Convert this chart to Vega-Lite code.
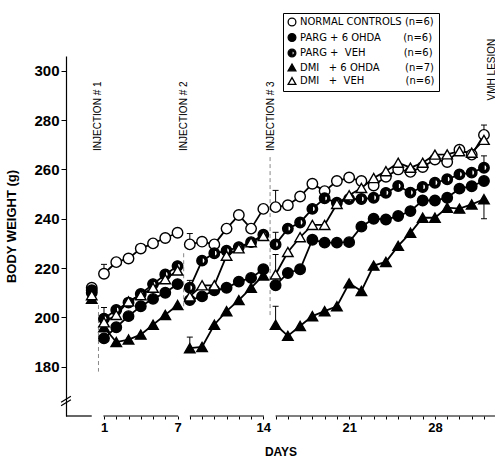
{
  "$schema": "https://vega.github.io/schema/vega-lite/v6.json",
  "width": 429,
  "height": 360,
  "autosize": {"type": "none"},
  "padding": {"left": 66, "top": 56, "right": 0, "bottom": 47},
  "background": "white",
  "config": {"view": {"stroke": null}, "font": "Liberation Sans",
    "legend": {"title":null,"orient":"none","legendX":217,"legendY":-43,"padding":4,"strokeColor":"black","fillColor":"white","labelFont":"DejaVu Sans","labelFontSize":10,"labelColor":"black","labelLimit":400,"labelOffset":3,"rowPadding":1.5,"symbolSize":60,"symbolStrokeWidth":1.3}},
  "datasets": {
    "pts": [
      {"g":"NC","s":0,"d":0,"v":212},
      {"g":"NC","s":1,"d":1,"v":217.7},{"g":"NC","s":1,"d":2,"v":222.4},{"g":"NC","s":1,"d":3,"v":223.9},{"g":"NC","s":1,"d":4,"v":227.9},{"g":"NC","s":1,"d":5,"v":230},{"g":"NC","s":1,"d":6,"v":232.2},{"g":"NC","s":1,"d":7,"v":234.3},
      {"g":"NC","s":2,"d":8,"v":229.6},{"g":"NC","s":2,"d":9,"v":230.7},{"g":"NC","s":2,"d":10,"v":229.6},{"g":"NC","s":2,"d":11,"v":236},{"g":"NC","s":2,"d":12,"v":241.5},{"g":"NC","s":2,"d":13,"v":236},{"g":"NC","s":2,"d":14,"v":244},
      {"g":"NC","s":3,"d":15,"v":244.7},{"g":"NC","s":3,"d":16,"v":245.5},{"g":"NC","s":3,"d":17,"v":249},{"g":"NC","s":3,"d":18,"v":254.2},{"g":"NC","s":3,"d":19,"v":251.2},{"g":"NC","s":3,"d":20,"v":255.3},{"g":"NC","s":3,"d":21,"v":256.7},{"g":"NC","s":3,"d":22,"v":255.3},{"g":"NC","s":3,"d":23,"v":253.5},{"g":"NC","s":3,"d":24,"v":257},{"g":"NC","s":3,"d":25,"v":260},{"g":"NC","s":3,"d":26,"v":259},{"g":"NC","s":3,"d":27,"v":261},{"g":"NC","s":3,"d":28,"v":264},{"g":"NC","s":3,"d":29,"v":263},{"g":"NC","s":3,"d":30,"v":268},{"g":"NC","s":3,"d":31,"v":266},{"g":"NC","s":3,"d":32,"v":274},
      {"g":"P6","s":0,"d":0,"v":211},
      {"g":"P6","s":1,"d":1,"v":191.5},{"g":"P6","s":1,"d":2,"v":196},{"g":"P6","s":1,"d":3,"v":200.5},{"g":"P6","s":1,"d":4,"v":204.5},{"g":"P6","s":1,"d":5,"v":207.5},{"g":"P6","s":1,"d":6,"v":210},{"g":"P6","s":1,"d":7,"v":213.5},
      {"g":"P6","s":2,"d":8,"v":207},{"g":"P6","s":2,"d":9,"v":208.5},{"g":"P6","s":2,"d":10,"v":211},{"g":"P6","s":2,"d":11,"v":212},{"g":"P6","s":2,"d":12,"v":214.5},{"g":"P6","s":2,"d":13,"v":216},{"g":"P6","s":2,"d":14,"v":219.5},
      {"g":"P6","s":3,"d":15,"v":213},{"g":"P6","s":3,"d":16,"v":218},{"g":"P6","s":3,"d":17,"v":219.5},{"g":"P6","s":3,"d":18,"v":231.5},{"g":"P6","s":3,"d":19,"v":230.3},{"g":"P6","s":3,"d":20,"v":230.3},{"g":"P6","s":3,"d":21,"v":230.5},{"g":"P6","s":3,"d":22,"v":236.8},{"g":"P6","s":3,"d":23,"v":240},{"g":"P6","s":3,"d":24,"v":239.7},{"g":"P6","s":3,"d":25,"v":241.1},{"g":"P6","s":3,"d":26,"v":243.1},{"g":"P6","s":3,"d":27,"v":247.4},{"g":"P6","s":3,"d":28,"v":247.4},{"g":"P6","s":3,"d":29,"v":248.5},{"g":"P6","s":3,"d":30,"v":252.2},{"g":"P6","s":3,"d":31,"v":253.2},{"g":"P6","s":3,"d":32,"v":255.3},
      {"g":"PV","s":0,"d":0,"v":210},
      {"g":"PV","s":1,"d":1,"v":199.5},{"g":"PV","s":1,"d":2,"v":203},{"g":"PV","s":1,"d":3,"v":206},{"g":"PV","s":1,"d":4,"v":209.5},{"g":"PV","s":1,"d":5,"v":213.5},{"g":"PV","s":1,"d":6,"v":217.4},{"g":"PV","s":1,"d":7,"v":220.8},
      {"g":"PV","s":2,"d":8,"v":212},{"g":"PV","s":2,"d":9,"v":223},{"g":"PV","s":2,"d":10,"v":226},{"g":"PV","s":2,"d":11,"v":227},{"g":"PV","s":2,"d":12,"v":228.5},{"g":"PV","s":2,"d":13,"v":230.5},{"g":"PV","s":2,"d":14,"v":233.5},
      {"g":"PV","s":3,"d":15,"v":229.6},{"g":"PV","s":3,"d":16,"v":236},{"g":"PV","s":3,"d":17,"v":238.5},{"g":"PV","s":3,"d":18,"v":244},{"g":"PV","s":3,"d":19,"v":248.3},{"g":"PV","s":3,"d":20,"v":246.5},{"g":"PV","s":3,"d":21,"v":248},{"g":"PV","s":3,"d":22,"v":248},{"g":"PV","s":3,"d":23,"v":248.5},{"g":"PV","s":3,"d":24,"v":250.5},{"g":"PV","s":3,"d":25,"v":253.3},{"g":"PV","s":3,"d":26,"v":250.6},{"g":"PV","s":3,"d":27,"v":252.9},{"g":"PV","s":3,"d":28,"v":254.6},{"g":"PV","s":3,"d":29,"v":256},{"g":"PV","s":3,"d":30,"v":258},{"g":"PV","s":3,"d":31,"v":258.7},{"g":"PV","s":3,"d":32,"v":260.7},
      {"g":"D6","s":0,"d":0,"v":207.5},
      {"g":"D6","s":1,"d":1,"v":196},{"g":"D6","s":1,"d":2,"v":190},{"g":"D6","s":1,"d":3,"v":191},{"g":"D6","s":1,"d":4,"v":193},{"g":"D6","s":1,"d":5,"v":197},{"g":"D6","s":1,"d":6,"v":201},{"g":"D6","s":1,"d":7,"v":205},
      {"g":"D6","s":2,"d":8,"v":187.5},{"g":"D6","s":2,"d":9,"v":188},{"g":"D6","s":2,"d":10,"v":197},{"g":"D6","s":2,"d":11,"v":202.5},{"g":"D6","s":2,"d":12,"v":207},{"g":"D6","s":2,"d":13,"v":212},{"g":"D6","s":2,"d":14,"v":217},
      {"g":"D6","s":3,"d":15,"v":197},{"g":"D6","s":3,"d":16,"v":192.5},{"g":"D6","s":3,"d":17,"v":196.5},{"g":"D6","s":3,"d":18,"v":200.5},{"g":"D6","s":3,"d":19,"v":202.5},{"g":"D6","s":3,"d":20,"v":204.5},{"g":"D6","s":3,"d":21,"v":213.8},{"g":"D6","s":3,"d":22,"v":210.7},{"g":"D6","s":3,"d":23,"v":221},{"g":"D6","s":3,"d":24,"v":222.5},{"g":"D6","s":3,"d":25,"v":229},{"g":"D6","s":3,"d":26,"v":234.3},{"g":"D6","s":3,"d":27,"v":240.4},{"g":"D6","s":3,"d":28,"v":240.4},{"g":"D6","s":3,"d":29,"v":244.5},{"g":"D6","s":3,"d":30,"v":244.1},{"g":"D6","s":3,"d":31,"v":245.8},{"g":"D6","s":3,"d":32,"v":247.9},
      {"g":"DV","s":0,"d":0,"v":209},
      {"g":"DV","s":1,"d":1,"v":198},{"g":"DV","s":1,"d":2,"v":201},{"g":"DV","s":1,"d":3,"v":206.5},{"g":"DV","s":1,"d":4,"v":209},{"g":"DV","s":1,"d":5,"v":212},{"g":"DV","s":1,"d":6,"v":215.5},{"g":"DV","s":1,"d":7,"v":219},
      {"g":"DV","s":2,"d":8,"v":208.5},{"g":"DV","s":2,"d":9,"v":213},{"g":"DV","s":2,"d":10,"v":213},{"g":"DV","s":2,"d":11,"v":225},{"g":"DV","s":2,"d":12,"v":228},{"g":"DV","s":2,"d":13,"v":230.5},{"g":"DV","s":2,"d":14,"v":233},
      {"g":"DV","s":3,"d":15,"v":217.4},{"g":"DV","s":3,"d":16,"v":226.5},{"g":"DV","s":3,"d":17,"v":232.5},{"g":"DV","s":3,"d":18,"v":237.5},{"g":"DV","s":3,"d":19,"v":237.5},{"g":"DV","s":3,"d":20,"v":246},{"g":"DV","s":3,"d":21,"v":249.5},{"g":"DV","s":3,"d":22,"v":252.5},{"g":"DV","s":3,"d":23,"v":256.5},{"g":"DV","s":3,"d":24,"v":259.3},{"g":"DV","s":3,"d":25,"v":262.7},{"g":"DV","s":3,"d":26,"v":260.7},{"g":"DV","s":3,"d":27,"v":262.7},{"g":"DV","s":3,"d":28,"v":266},{"g":"DV","s":3,"d":29,"v":266.1},{"g":"DV","s":3,"d":30,"v":267.4},{"g":"DV","s":3,"d":31,"v":266.8},{"g":"DV","s":3,"d":32,"v":272}
    ],
    "err": [
      {"d":1,"v":217.7,"v2":221.5},{"d":1,"v":199.5,"v2":204},
      {"d":8,"v":229.6,"v2":234},{"d":8,"v":208.5,"v2":215},{"d":8,"v":187.5,"v2":192},
      {"d":15,"v":244.7,"v2":251.5},{"d":15,"v":229.6,"v2":234.5},{"d":15,"v":217.4,"v2":225.5},{"d":15,"v":197,"v2":204.5},
      {"d":32,"v":260.7,"v2":265.5},{"d":32,"v":247.9,"v2":240},{"d":32,"v":274,"v2":278}
    ],
    "axseg": [
      {"d":-2.1,"d2":0,"v":160},{"d":0.95,"d2":7.05,"v":160},{"d":8,"d2":14.05,"v":160},{"d":15,"d2":32.9,"v":160}
    ],
    "brk": [
      {"d":-2.5,"d2":-1.7,"v":164.2,"v2":166.6},{"d":-2.5,"d2":-1.7,"v":165.6,"v2":168}
    ],
    "inj": [
      {"d":0.55,"v":205,"v2":178},{"d":7.5,"v":226,"v2":203},{"d":14.55,"v":265,"v2":200}
    ],
    "lab": [
      {"d":0.5,"v":267.5,"t":"INJECTION # 1"},
      {"d":7.55,"v":267.5,"t":"INJECTION # 2"},
      {"d":14.6,"v":267.5,"t":"INJECTION # 3"},
      {"d":32.65,"v":288,"t":"VMH LESION"}
    ]
  },
  "encoding": {
    "x": {"field":"d","type":"quantitative","scale":{"domain":[-2.1,32.9],"nice":false,"zero":false},
      "axis":{"title":"DAYS","values":[1,2,3,4,5,6,7,8,9,10,11,12,13,14,15,16,17,18,19,20,21,22,23,24,25,26,27,28,29,30,31,32],
        "labelExpr":"indexof([1,7,14,21,28], datum.value) >= 0 ? datum.label : ''",
        "domain":false,"grid":false,"tickSize":3,"tickColor":"black","labelPadding":2,"labelFont":"Liberation Sans","labelFontWeight":"bold","labelFontSize":13,"labelColor":"black",
        "titleFont":"Liberation Sans","titleFontWeight":"bold","titleFontSize":12,"titleColor":"black","titlePadding":12}},
    "y": {"field":"v","type":"quantitative","scale":{"domain":[160,306],"nice":false,"zero":false},
      "axis":{"title":"BODY WEIGHT (g)","values":[180,200,220,240,260,280,300],"grid":false,"tickSize":5,"tickColor":"black","domainColor":"black","domainWidth":1.2,
        "labelPadding":2,"labelFont":"Liberation Sans","labelFontWeight":"bold","labelFontSize":15,"labelColor":"black",
        "titleFont":"Liberation Sans","titleFontWeight":"bold","titleFontSize":13,"titleColor":"black","titleX":-55,"titleY":170,"titleAngle":270,"titleAlign":"center","titleBaseline":"middle"}}
  },
  "layer": [
    {"data":{"name":"axseg"},"mark":{"type":"rule","color":"black","strokeWidth":1.2},"encoding":{"x2":{"field":"d2"}}},
    {"data":{"name":"brk"},"mark":{"type":"rule","color":"black","strokeWidth":1.2},"encoding":{"x2":{"field":"d2"},"y2":{"field":"v2"}}},
    {"data":{"name":"inj"},"mark":{"type":"rule","color":"#888888","strokeWidth":1,"strokeDash":[4,3]},"encoding":{"y2":{"field":"v2"}}},
    {"data":{"name":"err"},"mark":{"type":"rule","color":"black","strokeWidth":1},"encoding":{"y2":{"field":"v2"}}},
    {"data":{"name":"err"},"mark":{"type":"tick","orient":"horizontal","size":6,"thickness":1,"color":"black","opacity":1},"encoding":{"y":{"field":"v2","type":"quantitative"}}},
    {"data":{"name":"pts"},"mark":{"type":"line","color":"black","strokeWidth":1.8},"encoding":{"detail":[{"field":"g"},{"field":"s"}]}},
    {"data":{"name":"pts"},"transform":[{"filter":"datum.g == 'PV'"}],"mark":{"type":"point","shape":"circle","filled":true,"color":"white","size":100,"opacity":1}},
    {"data":{"name":"pts"},"mark":{"type":"point","filled":true,"strokeWidth":1.4,"size":110,"opacity":1},
      "encoding":{
        "fill":{"field":"g","type":"nominal","scale":{"domain":["NC","P6","PV","D6","DV"],"range":["white","black","black","black","white"]},
          "legend":{"labelExpr":"datum.value=='NC'?'NORMAL CONTROLS (n=6)':datum.value=='P6'?'PARG + 6 OHDA\u00a0\u00a0\u00a0\u00a0\u00a0\u00a0\u00a0(n=6)':datum.value=='PV'?'PARG +\u00a0\u00a0VEH\u00a0\u00a0\u00a0\u00a0\u00a0\u00a0\u00a0\u00a0\u00a0\u00a0\u00a0\u00a0(n=6)':datum.value=='D6'?'DMI\u00a0\u00a0\u00a0+ 6 OHDA\u00a0\u00a0\u00a0\u00a0\u00a0\u00a0\u00a0\u00a0(n=7)':'DMI\u00a0\u00a0\u00a0+\u00a0\u00a0VEH\u00a0\u00a0\u00a0\u00a0\u00a0\u00a0\u00a0\u00a0\u00a0\u00a0\u00a0\u00a0\u00a0(n=6)'"}},
        "stroke":{"field":"g","type":"nominal","scale":{"domain":["NC","P6","PV","D6","DV"],"range":["black","black","black","black","black"]},
          "legend":{"labelExpr":"datum.value=='NC'?'NORMAL CONTROLS (n=6)':datum.value=='P6'?'PARG + 6 OHDA\u00a0\u00a0\u00a0\u00a0\u00a0\u00a0\u00a0(n=6)':datum.value=='PV'?'PARG +\u00a0\u00a0VEH\u00a0\u00a0\u00a0\u00a0\u00a0\u00a0\u00a0\u00a0\u00a0\u00a0\u00a0\u00a0(n=6)':datum.value=='D6'?'DMI\u00a0\u00a0\u00a0+ 6 OHDA\u00a0\u00a0\u00a0\u00a0\u00a0\u00a0\u00a0\u00a0(n=7)':'DMI\u00a0\u00a0\u00a0+\u00a0\u00a0VEH\u00a0\u00a0\u00a0\u00a0\u00a0\u00a0\u00a0\u00a0\u00a0\u00a0\u00a0\u00a0\u00a0(n=6)'"}},
        "shape":{"field":"g","type":"nominal","scale":{"domain":["NC","P6","PV","D6","DV"],"range":["circle","circle","M0,-1A1,1 0 1,1 0,1A1,1 0 1,1 0,-1ZM0,0.6A0.6,0.6 0 0,0 0,-0.6Z","triangle-up","triangle-up"]},
          "legend":{"labelExpr":"datum.value=='NC'?'NORMAL CONTROLS (n=6)':datum.value=='P6'?'PARG + 6 OHDA\u00a0\u00a0\u00a0\u00a0\u00a0\u00a0\u00a0(n=6)':datum.value=='PV'?'PARG +\u00a0\u00a0VEH\u00a0\u00a0\u00a0\u00a0\u00a0\u00a0\u00a0\u00a0\u00a0\u00a0\u00a0\u00a0(n=6)':datum.value=='D6'?'DMI\u00a0\u00a0\u00a0+ 6 OHDA\u00a0\u00a0\u00a0\u00a0\u00a0\u00a0\u00a0\u00a0(n=7)':'DMI\u00a0\u00a0\u00a0+\u00a0\u00a0VEH\u00a0\u00a0\u00a0\u00a0\u00a0\u00a0\u00a0\u00a0\u00a0\u00a0\u00a0\u00a0\u00a0(n=6)'"}}
      }},
    {"data":{"name":"lab"},"mark":{"type":"text","angle":270,"align":"left","baseline":"middle","font":"Liberation Sans","fontSize":10,"color":"black"},"encoding":{"text":{"field":"t"}}}
  ]
}
